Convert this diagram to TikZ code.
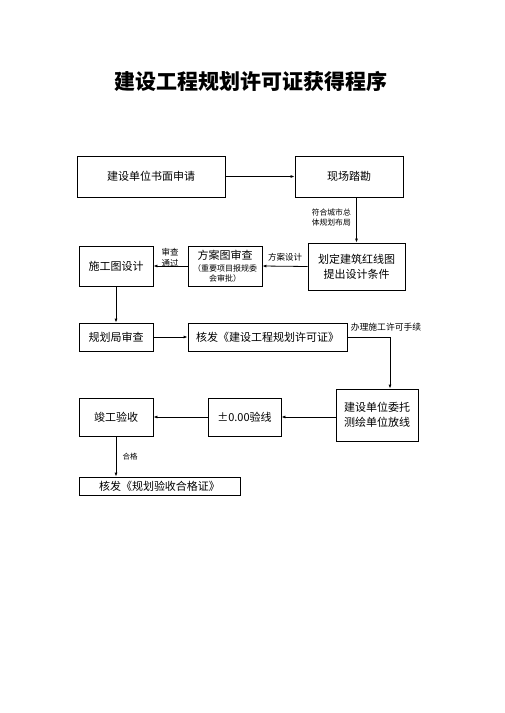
\documentclass[tikz,border=0pt]{standalone}
\usepackage{fontspec}
\newfontfamily\cjk{Noto Sans CJK SC}
\usetikzlibrary{arrows.meta,positioning,calc}

\begin{document}
\begin{tikzpicture}[
    x=1pt, y=-1pt,
    font=\cjk\fontsize{11}{15}\selectfont,
    box/.style={
        rectangle,
        draw=black,
        line width=0.8pt,
        inner sep=0pt,
        align=center,
        fill=white
    },
    note/.style={
        font=\cjk\fontsize{7.8}{9.5}\selectfont,
        inner sep=0pt,
        align=left
    },
    arrow/.style={-{Latex[length=4pt,width=3pt]}, line width=0.8pt}
]

\useasboundingbox (0,0) rectangle (504,713);

% =========================================================
% TITULO
% =========================================================

\node[font=\cjk\bfseries\fontsize{21}{24}\selectfont] (titulo) at (251,81)
{建设工程规划许可证获得程序};

% =========================================================
% CAJAS
% =========================================================

\node[box, minimum width=148, minimum height=41] (shenqing) at (151,176.5)
{建设单位书面申请};

\node[box, minimum width=108, minimum height=41] (kancha) at (349,176.5)
{现场踏勘};

\node[box, minimum width=97, minimum height=47] (hongxian) at (356.5,266.5)
{划定建筑红线图\\提出设计条件};

\node[box, minimum width=74, minimum height=40] (fangan) at (225,266)
{方案图审查\\[-3pt]\fontsize{8}{10}\selectfont（重要项目报规委\\[-5pt]
 \fontsize{8}{10}\selectfont 会审批）};

\node[box, minimum width=74, minimum height=40] (shigong) at (116,266)
{施工图设计};

\node[box, minimum width=74, minimum height=28] (guihuaju) at (116,337)
{规划局审查};

\node[box, minimum width=159, minimum height=28] (xukezheng) at (267.5,337)
{核发《建设工程规划许可证》};

\node[box, minimum width=82, minimum height=52] (fangxian) at (377,415)
{建设单位委托\\测绘单位放线};

\node[box, minimum width=73, minimum height=38] (yanxian) at (244.5,417)
{±0.00验线};

\node[box, minimum width=74, minimum height=38] (jungong) at (116,417)
{竣工验收};

\node[box, minimum width=161, minimum height=18] (hegezheng) at (159.5,486)
{核发《规划验收合格证》};

% =========================================================
% ETIQUETAS
% =========================================================

\node[note, anchor=east] (fuhe) at (351,217.5)
{符合城市总\\体规划布局};

\node[note, font=\cjk\fontsize{8.5}{10}\selectfont] (sheji) at (285,257.5)
{方案设计};

\node[note, font=\cjk\fontsize{8.5}{11}\selectfont] (tongguo) at (170,257.5)
{审查\\通过};

\node[note, font=\cjk\fontsize{8.8}{10}\selectfont] (shouxu) at (386,327)
{办理施工许可手续};

\node[note, font=\cjk\fontsize{7.5}{9}\selectfont] (hege) at (130,456.5)
{合格};

% =========================================================
% FLECHAS
% =========================================================

\draw[arrow] (shenqing.east) -- (kancha.west);
\draw[arrow] (kancha.south -| hongxian.north) -- (hongxian.north);
\draw[arrow] (hongxian.west) -- (fangan.east);
\draw[arrow] (fangan.west) -- (shigong.east);
\draw[arrow] (shigong.south) -- (guihuaju.north);
\draw[arrow] (guihuaju.east) -- (xukezheng.west);
\draw[arrow] (xukezheng.east) -| ([xshift=13pt]fangxian.north);
\draw[arrow] (fangxian.west |- yanxian.east) -- (yanxian.east);
\draw[arrow] (yanxian.west) -- (jungong.east);
\draw[arrow] (jungong.south) -- (jungong.south |- hegezheng.north);

\end{tikzpicture}
\end{document}
